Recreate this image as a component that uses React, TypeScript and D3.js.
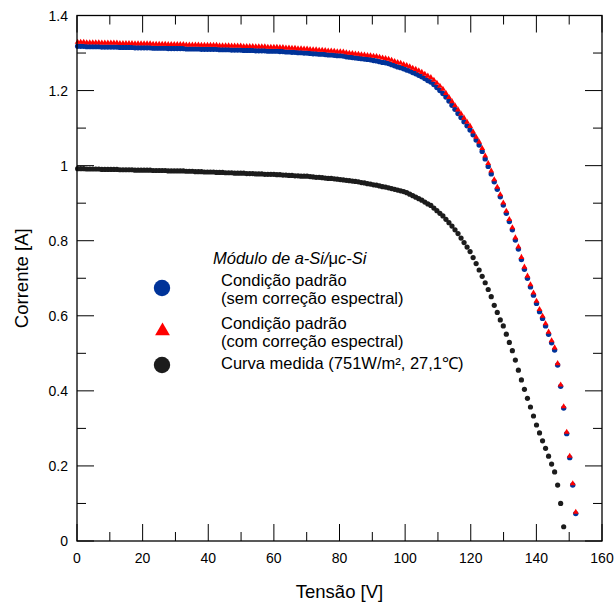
import React from 'react';
import * as d3 from 'd3';

// Voltage grid of the measurement (V)
const voltage = [
  0.20, 1.12, 2.04, 2.96, 3.88, 4.80, 5.72, 6.64, 7.56, 8.48,
  9.40, 10.32, 11.24, 12.16, 13.08, 14.00, 14.92, 15.84, 16.76, 17.68,
  18.60, 19.52, 20.44, 21.36, 22.28, 23.20, 24.12, 25.04, 25.96, 26.88,
  27.80, 28.72, 29.64, 30.56, 31.48, 32.40, 33.32, 34.24, 35.16, 36.08,
  37.00, 37.92, 38.84, 39.76, 40.68, 41.60, 42.52, 43.44, 44.36, 45.28,
  46.20, 47.12, 48.04, 48.96, 49.88, 50.80, 51.72, 52.64, 53.56, 54.48,
  55.40, 56.32, 57.24, 58.16, 59.08, 60.00, 60.92, 61.84, 62.76, 63.68,
  64.60, 65.52, 66.44, 67.36, 68.28, 69.20, 70.12, 71.04, 71.96, 72.88,
  73.80, 74.72, 75.64, 76.56, 77.48, 78.40, 79.32, 80.24, 81.16, 82.08,
  83.00, 83.92, 84.84, 85.76, 86.68, 87.60, 88.52, 89.44, 90.36, 91.28,
  92.20, 93.12, 94.04, 94.96, 95.88, 96.80, 97.72, 98.64, 99.56, 100.48,
  101.40, 102.32, 103.24, 104.16, 105.08, 106.00, 106.92, 107.84, 108.76, 109.68,
  110.60, 111.52, 112.44, 113.36, 114.28, 115.20, 116.12, 117.04, 117.96, 118.88,
  119.80, 120.72, 121.64, 122.56, 123.48, 124.40, 125.32, 126.24, 127.16, 128.08,
  129.00, 129.92, 130.84, 131.76, 132.68, 133.60, 134.52, 135.44, 136.36, 137.28,
  138.20, 139.12, 140.04, 140.96, 141.88, 142.80, 143.72, 144.64, 145.56, 146.48,
  147.40, 148.32, 149.24, 150.16, 151.08, 152.00,
];

// Condição padrão (sem correção espectral) — current (A)
const semCorrecao = [
  1.318, 1.318, 1.318, 1.317, 1.317, 1.317, 1.317, 1.317, 1.316, 1.316,
  1.316, 1.316, 1.316, 1.316, 1.315, 1.315, 1.315, 1.315, 1.315, 1.314,
  1.314, 1.314, 1.314, 1.314, 1.314, 1.313, 1.313, 1.313, 1.313, 1.313,
  1.312, 1.312, 1.312, 1.312, 1.312, 1.312, 1.311, 1.311, 1.311, 1.311,
  1.311, 1.310, 1.310, 1.310, 1.310, 1.310, 1.310, 1.309, 1.309, 1.309,
  1.309, 1.308, 1.308, 1.308, 1.308, 1.307, 1.307, 1.307, 1.307, 1.306,
  1.306, 1.306, 1.306, 1.305, 1.305, 1.305, 1.305, 1.304, 1.304, 1.303,
  1.303, 1.302, 1.302, 1.301, 1.301, 1.300, 1.300, 1.299, 1.298, 1.298,
  1.297, 1.297, 1.296, 1.295, 1.295, 1.294, 1.293, 1.293, 1.292, 1.290,
  1.289, 1.288, 1.287, 1.286, 1.285, 1.284, 1.283, 1.282, 1.280, 1.279,
  1.277, 1.275, 1.274, 1.272, 1.269, 1.266, 1.263, 1.261, 1.258, 1.255,
  1.252, 1.248, 1.245, 1.241, 1.237, 1.232, 1.227, 1.223, 1.216, 1.208,
  1.200, 1.192, 1.183, 1.172, 1.161, 1.150, 1.139, 1.128, 1.117, 1.106,
  1.095, 1.082, 1.068, 1.055, 1.038, 1.018, 0.998, 0.978, 0.957, 0.937,
  0.917, 0.895, 0.873, 0.851, 0.829, 0.802, 0.778, 0.750, 0.724, 0.700,
  0.677, 0.655, 0.633, 0.611, 0.593, 0.573, 0.551, 0.528, 0.509, 0.469,
  0.412, 0.354, 0.286, 0.222, 0.149, 0.073,
];

// Condição padrão (com correção espectral) — current (A)
const comCorrecao = [
  1.329, 1.329, 1.329, 1.328, 1.328, 1.328, 1.328, 1.328, 1.327, 1.327,
  1.327, 1.327, 1.327, 1.327, 1.326, 1.326, 1.326, 1.326, 1.326, 1.325,
  1.325, 1.325, 1.325, 1.325, 1.325, 1.324, 1.324, 1.324, 1.324, 1.324,
  1.323, 1.323, 1.323, 1.323, 1.323, 1.323, 1.322, 1.322, 1.322, 1.322,
  1.322, 1.321, 1.321, 1.321, 1.321, 1.321, 1.321, 1.320, 1.320, 1.320,
  1.320, 1.319, 1.319, 1.319, 1.319, 1.318, 1.318, 1.318, 1.318, 1.317,
  1.317, 1.317, 1.317, 1.316, 1.316, 1.316, 1.316, 1.315, 1.315, 1.314,
  1.314, 1.313, 1.313, 1.312, 1.312, 1.311, 1.311, 1.310, 1.309, 1.309,
  1.308, 1.308, 1.307, 1.306, 1.306, 1.305, 1.304, 1.304, 1.303, 1.301,
  1.300, 1.299, 1.298, 1.297, 1.296, 1.295, 1.294, 1.293, 1.292, 1.291,
  1.289, 1.287, 1.286, 1.284, 1.281, 1.278, 1.275, 1.273, 1.270, 1.267,
  1.264, 1.260, 1.257, 1.253, 1.249, 1.244, 1.239, 1.235, 1.228, 1.220,
  1.212, 1.204, 1.193, 1.182, 1.171, 1.160, 1.149, 1.138, 1.127, 1.116,
  1.105, 1.090, 1.076, 1.063, 1.046, 1.026, 1.006, 0.986, 0.963, 0.943,
  0.923, 0.901, 0.879, 0.857, 0.835, 0.808, 0.784, 0.756, 0.730, 0.706,
  0.683, 0.661, 0.639, 0.617, 0.599, 0.579, 0.557, 0.534, 0.515, 0.473,
  0.416, 0.358, 0.290, 0.226, 0.153, 0.077,
];

// Curva medida (751 W/m², 27,1 °C) — current (A)
const medida = [
  0.992, 0.992, 0.992, 0.991, 0.991, 0.991, 0.991, 0.991, 0.990, 0.990,
  0.990, 0.990, 0.990, 0.990, 0.989, 0.989, 0.989, 0.989, 0.989, 0.988,
  0.988, 0.988, 0.988, 0.988, 0.988, 0.987, 0.987, 0.987, 0.987, 0.987,
  0.986, 0.986, 0.986, 0.986, 0.986, 0.986, 0.985, 0.985, 0.985, 0.984,
  0.984, 0.984, 0.983, 0.983, 0.983, 0.983, 0.982, 0.982, 0.982, 0.981,
  0.981, 0.981, 0.980, 0.980, 0.980, 0.980, 0.979, 0.979, 0.979, 0.978,
  0.978, 0.978, 0.977, 0.977, 0.977, 0.977, 0.976, 0.976, 0.975, 0.975,
  0.974, 0.974, 0.973, 0.973, 0.972, 0.972, 0.972, 0.971, 0.970, 0.969,
  0.969, 0.968, 0.967, 0.966, 0.966, 0.965, 0.964, 0.963, 0.962, 0.961,
  0.960, 0.959, 0.958, 0.957, 0.955, 0.954, 0.952, 0.951, 0.949, 0.948,
  0.946, 0.944, 0.943, 0.941, 0.939, 0.937, 0.935, 0.933, 0.931, 0.928,
  0.924, 0.920, 0.916, 0.912, 0.908, 0.903, 0.898, 0.894, 0.887, 0.880,
  0.873, 0.866, 0.857, 0.848, 0.839, 0.829, 0.819, 0.807, 0.795, 0.783,
  0.771, 0.755, 0.739, 0.722, 0.705, 0.688, 0.670, 0.651, 0.628, 0.609,
  0.589, 0.573, 0.551, 0.529, 0.507, 0.482, 0.455, 0.429, 0.404, 0.380,
  0.357, 0.333, 0.309, 0.288, 0.267, 0.247, 0.226, 0.205, 0.184, 0.149,
  0.100, 0.038,
];

const xTickValues = [0, 20, 40, 60, 80, 100, 120, 140, 160];
const xTickLabels = ['0', '20', '40', '60', '80', '100', '120', '140', '160'];
const xMinorValues = [10, 30, 50, 70, 90, 110, 130, 150];
const yTickValues = [0, 0.2, 0.4, 0.6, 0.8, 1, 1.2, 1.4];
const yTickLabels = ['0', '0.2', '0.4', '0.6', '0.8', '1', '1.2', '1.4'];
const yMinorValues = [0.1, 0.3, 0.5, 0.7, 0.9, 1.1, 1.3];

const legendTitleA = 'Módulo de a-Si/';
const legendTitleMu = 'μ';
const legendTitleB = 'c-Si';
const legendLabels = [
  ['Condição padrão', '(sem correção espectral)'],
  ['Condição padrão', '(com correção espectral)'],
  ['Curva medida (751W/m², 27,1℃)'],
];
const xTitle = 'Tensão [V]';
const yTitle = 'Corrente [A]';

const BLUE = '#003399';
const RED = '#ff0000';
const BLACK = '#1c1c1c';
const FONT = '"Liberation Sans", Arial, sans-serif';

export default function App() {
  const W = 616;
  const H = 608;
  const x = d3.scaleLinear().domain([0, 160]).range([77, 602]);
  const y = d3.scaleLinear().domain([0, 1.4]).range([541, 15.5]);
  const [x0, x1] = x.range();
  const [y0, y1] = y.range();
  const MAJ = 17;
  const MIN = 9;

  const tri = d3.symbol().type(d3.symbolTriangle).size(15)();
  const triLegend = d3.symbol().type(d3.symbolTriangle).size(95)();

  const blueData = voltage.map((v, i) => [v, semCorrecao[i]] as [number, number]);
  const redData = voltage.map((v, i) => [v, comCorrecao[i]] as [number, number]);
  const blackData = medida.map((c, i) => [voltage[i], c] as [number, number]);

  return (
    <svg
      width={W}
      height={H}
      style={{ position: 'absolute', left: 0, top: 0, background: '#fff' }}
      fontFamily={FONT}
    >
      <rect x={0} y={0} width={W} height={H} fill="#fff" />
      {/* data */}
      <g>
        {blackData.map((d, i) => (
          <circle key={'k' + i} cx={x(d[0])} cy={y(d[1])} r={2.6} fill={BLACK} />
        ))}
        {blueData.map((d, i) => (
          <circle key={'b' + i} cx={x(d[0])} cy={y(d[1])} r={2.7} fill={BLUE} />
        ))}
        {redData.map((d, i) => (
          <path key={'r' + i} d={tri} transform={`translate(${x(d[0])},${y(d[1])})`} fill={RED} />
        ))}
      </g>
      {/* frame */}
      <rect x={x0} y={y1} width={x1 - x0} height={y0 - y1} fill="none" stroke="#000" strokeWidth={1.3} />
      {/* ticks */}
      <g stroke="#000" strokeWidth={1}>
        {xTickValues.map((v) => (
          <g key={'xt' + v}>
            <line x1={x(v)} x2={x(v)} y1={y0} y2={y0 - MAJ} />
            <line x1={x(v)} x2={x(v)} y1={y1} y2={y1 + MAJ} />
          </g>
        ))}
        {xMinorValues.map((v) => (
          <g key={'xm' + v}>
            <line x1={x(v)} x2={x(v)} y1={y0} y2={y0 - MIN} />
            <line x1={x(v)} x2={x(v)} y1={y1} y2={y1 + MIN} />
          </g>
        ))}
        {yTickValues.map((v) => (
          <g key={'yt' + v}>
            <line x1={x0} x2={x0 + MAJ} y1={y(v)} y2={y(v)} />
            <line x1={x1} x2={x1 - MAJ} y1={y(v)} y2={y(v)} />
          </g>
        ))}
        {yMinorValues.map((v) => (
          <g key={'ym' + v}>
            <line x1={x0} x2={x0 + MIN} y1={y(v)} y2={y(v)} />
            <line x1={x1} x2={x1 - MIN} y1={y(v)} y2={y(v)} />
          </g>
        ))}
      </g>
      {/* tick labels */}
      <g fontSize={14} fill="#000">
        {xTickValues.map((v, i) => (
          <text key={'xl' + v} x={x(v)} y={y0 + 22} textAnchor="middle">
            {xTickLabels[i]}
          </text>
        ))}
        {yTickValues.map((v, i) => (
          <text key={'yl' + v} x={x0 - 9} y={y(v) + 5} textAnchor="end">
            {yTickLabels[i]}
          </text>
        ))}
      </g>
      {/* axis titles */}
      <text x={(x0 + x1) / 2} y={598} textAnchor="middle" fontSize={18.5} fill="#000">
        {xTitle}
      </text>
      <text
        transform={`translate(28,${(y0 + y1) / 2}) rotate(-90)`}
        textAnchor="middle"
        fontSize={18.5}
        fill="#000"
      >
        {yTitle}
      </text>
      {/* legend */}
      <g fontSize={16.5} fill="#000">
        <text x={213} y={264} fontStyle="italic">
          {legendTitleA}
          <tspan fontStyle="normal">{legendTitleMu}</tspan>
          {legendTitleB}
        </text>
        <circle cx={162} cy={288} r={8.2} fill={BLUE} />
        <text x={221} y={286}>{legendLabels[0][0]}</text>
        <text x={221} y={304}>{legendLabels[0][1]}</text>
        <path d={triLegend} transform="translate(162.5,331)" fill={RED} />
        <text x={221} y={329}>{legendLabels[1][0]}</text>
        <text x={221} y={347}>{legendLabels[1][1]}</text>
        <circle cx={162} cy={365} r={8.2} fill={BLACK} />
        <text x={221} y={369}>{legendLabels[2][0]}</text>
      </g>
    </svg>
  );
}
